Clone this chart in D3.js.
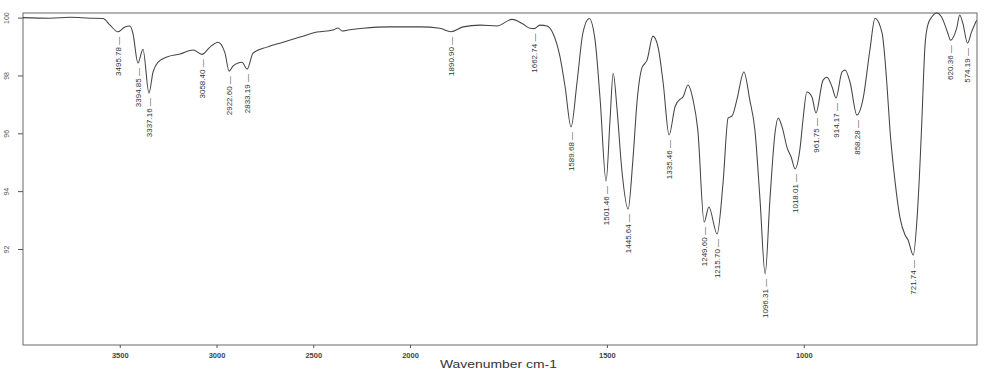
<!DOCTYPE html>
<html>
<head>
<meta charset="utf-8">
<script src="https://cdn.jsdelivr.net/npm/d3@7"></script>
<style>
	html, body { margin: 0; padding: 0; background: #fff; }
	svg { display: block; }
</style>
</head>
<body>
<div id="chart"></div>
<script>
'use strict';

// spectrum trace (wavenumber in cm-1, transmittance in %)
var wavenumber = [4000, 3860, 3757, 3654, 3587, 3550, 3509, 3473, 3447, 3432,
	3406, 3380, 3349, 3328, 3302, 3256, 3189, 3121, 3075, 3034,
	2992, 2956, 2935, 2915, 2889, 2868, 2842, 2811, 2739, 2656,
	2568, 2481, 2398, 2372, 2351, 2320, 2243, 2103, 1975, 1924,
	1896, 1865, 1822, 1779, 1741, 1713, 1695, 1685, 1670, 1652,
	1637, 1619, 1606, 1591, 1576, 1561, 1545, 1530, 1517, 1502,
	1492, 1484, 1474, 1462, 1446, 1434, 1423, 1411, 1398, 1383,
	1370, 1357, 1342, 1327, 1314, 1307, 1294, 1281, 1269, 1253,
	1241, 1220, 1205, 1192, 1182, 1170, 1152, 1137, 1124, 1111,
	1098, 1086, 1073, 1065, 1055, 1042, 1032, 1022, 1009, 1002,
	992, 979, 969, 951, 941, 928, 918, 903, 895, 882,
	865, 850, 832, 819, 801, 789, 781, 768, 756, 743,
	735, 722, 712, 704, 700, 692, 685, 675, 662, 650,
	634, 627, 611, 604, 596, 584, 574, 561];

var transmittance = [100.00, 99.98, 100.01, 99.98, 99.97, 99.74, 99.51, 99.68, 99.71, 99.46,
	98.43, 98.91, 97.39, 98.12, 98.46, 98.64, 98.74, 98.88, 98.73, 98.98,
	99.15, 98.77, 98.15, 98.32, 98.43, 98.46, 98.22, 98.77, 98.98, 99.15,
	99.33, 99.50, 99.57, 99.64, 99.54, 99.57, 99.63, 99.68, 99.68, 99.63,
	99.51, 99.68, 99.74, 99.71, 99.94, 99.78, 99.63, 99.62, 99.74, 99.71,
	99.46, 98.64, 97.60, 96.22, 97.74, 99.46, 99.97, 99.22, 97.15, 94.35,
	96.46, 98.08, 96.80, 94.73, 93.38, 95.07, 97.15, 98.26, 98.53, 99.36,
	98.98, 97.74, 95.94, 96.91, 97.18, 97.25, 97.67, 97.15, 96.11, 92.93,
	93.45, 92.52, 94.28, 96.53, 96.60, 97.15, 98.12, 97.15, 96.11, 93.69,
	91.14, 93.69, 96.01, 96.53, 96.22, 95.49, 95.18, 94.77, 95.53, 96.46,
	97.43, 97.25, 96.70, 97.84, 97.94, 97.60, 97.22, 98.12, 98.19, 97.74,
	96.63, 97.15, 98.88, 99.98, 99.46, 97.74, 96.11, 94.32, 93.11, 92.49,
	92.31, 91.79, 93.11, 95.18, 96.46, 99.05, 99.74, 100.02, 100.16, 100.02,
	99.46, 99.22, 99.67, 100.09, 99.81, 99.12, 99.50, 99.91];

// picked peaks: printed label and where the minimum sits on the axis
var peakLabels = ["3495.78", "3394.85", "3337.16", "3058.40", "2922.60", "2833.19",
	"1890.90", "1662.74", "1589.68", "1501.46", "1445.64", "1335.46",
	"1249.60", "1215.70", "1096.31", "1018.01", "961.75", "914.17",
	"858.28", "721.74", "620.36", "574.19"];
var peakAt = [3509, 3406, 3349, 3075, 2935, 2842,
	1896, 1685, 1591, 1502, 1446, 1342,
	1253, 1220, 1098, 1022, 969, 918,
	865, 722, 627, 584];

var xTicks = [3500, 3000, 2500, 2000, 1500, 1000];
var yTicks = [100, 98, 96, 94, 92];
var xTitle = "Wavenumber cm-1";

var width = 998, height = 376;
var plotLeft = 23, plotRight = 977, plotTop = 13, plotBottom = 345;

var svg = d3.select("#chart").append("svg")
	.attr("width", width)
	.attr("height", height)
	.attr("font-family", "'Liberation Sans', Arial, sans-serif");

// the instrument expands the scale 2x below 2000 cm-1
var x = d3.scaleLinear()
	.domain([4000, 2000, 560])
	.range([plotLeft, 410, plotRight]);

var y = d3.scaleLinear()
	.domain([88.68, 100.16])
	.range([plotBottom, plotTop]);

var points = wavenumber.map(function(w, i) {
	return { wn: w, t: transmittance[i] };
});

// frame
svg.append("rect")
	.attr("x", plotLeft)
	.attr("y", plotTop)
	.attr("width", plotRight - plotLeft)
	.attr("height", plotBottom - plotTop)
	.attr("fill", "none")
	.attr("stroke", "#676775")
	.attr("stroke-width", 1);

// x axis
var xAxis = svg.append("g")
	.attr("transform", "translate(0," + plotBottom + ")")
	.call(d3.axisBottom(x).tickValues(xTicks).tickSize(3).tickPadding(5)
		.tickFormat(d3.format("d")));
xAxis.select(".domain").remove();
xAxis.selectAll("line").attr("stroke", "#555");
xAxis.selectAll("text")
	.attr("font-size", "7.5px")
	.attr("font-weight", "bold")
	.attr("fill", "#444")
	.attr("font-family", "'Liberation Sans', Arial, sans-serif");

svg.append("text")
	.attr("x", 440)
	.attr("y", 368)
	.attr("font-size", "11px")
	.attr("fill", "#333")
	.attr("textLength", 117)
	.attr("lengthAdjust", "spacingAndGlyphs")
	.text(xTitle);

// y axis, labels turned on their side
var yAxis = svg.append("g")
	.attr("transform", "translate(" + plotLeft + ",0)")
	.call(d3.axisLeft(y).tickValues(yTicks).tickSize(5).tickFormat(d3.format("d")));
yAxis.select(".domain").remove();
yAxis.selectAll("line").attr("stroke", "#555");
yAxis.selectAll("text")
	.attr("x", null)
	.attr("dy", null)
	.attr("text-anchor", "middle")
	.attr("transform", "translate(-14.5,0) rotate(-90)")
	.attr("font-size", "7px")
	.attr("fill", "#555")
	.attr("font-family", "'Liberation Sans', Arial, sans-serif");

// the trace
var line = d3.line()
	.x(function(d) { return x(d.wn); })
	.y(function(d) { return y(d.t); })
	.curve(d3.curveMonotoneX);

svg.append("path")
	.datum(points)
	.attr("d", line)
	.attr("fill", "none")
	.attr("stroke", "#444")
	.attr("stroke-width", 1.05)
	.attr("stroke-linejoin", "round");

// peak labels hang under each minimum, reading upward
var peaks = peakLabels.map(function(label, i) {
	var p = points.find(function(d) { return d.wn === peakAt[i]; });
	return { label: label, wn: peakAt[i], t: p ? p.t : 100 };
});

svg.append("g").selectAll("text")
	.data(peaks)
	.enter().append("text")
	.attr("transform", function(d) {
		return "translate(" + x(d.wn) + "," + (y(d.t) + 5) + ") rotate(-90)";
	})
	.attr("text-anchor", "end")
	.attr("dy", "0.35em")
	.attr("font-size", "8px")
	.attr("fill", "#333")
	.text(function(d) { return d.label + " \u2014"; });
</script>
</body>
</html>
